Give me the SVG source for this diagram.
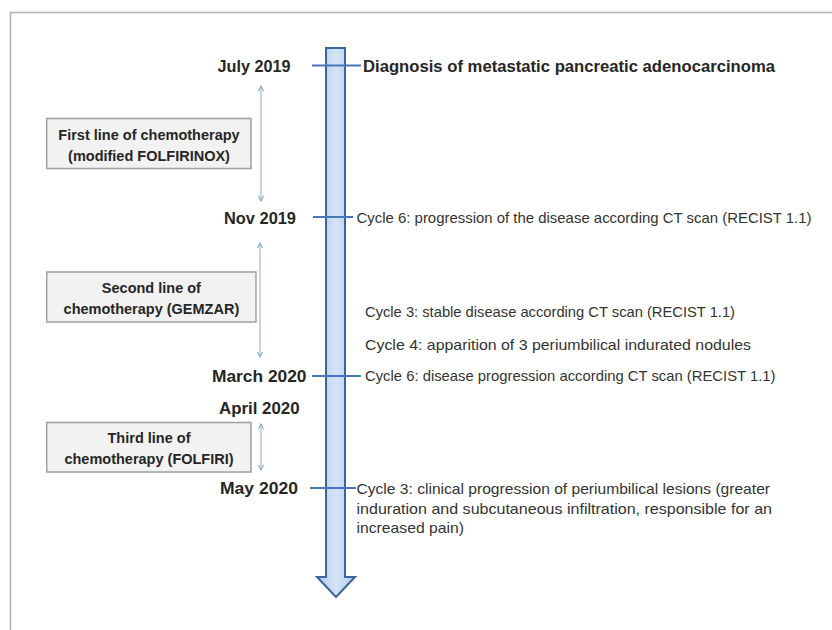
<svg xmlns="http://www.w3.org/2000/svg" width="832" height="630" viewBox="0 0 832 630">
  <style>
    .date { font-family: "Liberation Sans", Arial, sans-serif; font-weight: bold; font-size: 17px; fill: #262626; }
    .txt { font-family: "Liberation Sans", Arial, sans-serif; font-size: 15px; fill: #333333; }
    .btxt { font-family: "Liberation Sans", Arial, sans-serif; font-weight: bold; font-size: 14.5px; fill: #262626; text-anchor: middle; }
    .box { fill: #f2f2f2; stroke: #a0a0a0; stroke-width: 1.5; }
    .tick { stroke: #4677b5; stroke-width: 2; fill: none; }
    .span { stroke: #9db8d4; stroke-width: 1.2; fill: none; marker-start: url(#chev); marker-end: url(#chev); }
  </style>
  <defs>
    <linearGradient id="shaftGrad" x1="0" y1="0" x2="1" y2="0">
      <stop offset="0" stop-color="#b2cbeb"/>
      <stop offset="0.5" stop-color="#d4e3f6"/>
      <stop offset="1" stop-color="#b2cbeb"/>
    </linearGradient>
    <marker id="chev" viewBox="0 0 8 8" refX="7" refY="4" markerWidth="7" markerHeight="7" markerUnits="userSpaceOnUse" orient="auto-start-reverse">
      <path d="M1,1 L7,4 L1,7" fill="none" stroke="#8aa8c8" stroke-width="1.2"/>
    </marker>
  </defs>

  <rect x="0" y="0" width="832" height="630" fill="#ffffff"/>
  <rect x="10.5" y="12.5" width="840" height="640" fill="none" stroke="#b3b3b3" stroke-width="1.5"/>

  <g id="timeline">
    <path d="M326,48 H345 V577 H355 L336,597 L317,577 H326 Z" fill="url(#shaftGrad)" stroke="#3a659b" stroke-width="2" stroke-linejoin="miter"/>
  </g>

  <g id="connectors">
    <line class="tick" x1="312" y1="65.5" x2="361" y2="65.5"/>
    <line class="tick" x1="313" y1="217" x2="353" y2="217"/>
    <line class="tick" x1="312" y1="376" x2="361" y2="376"/>
    <line class="tick" x1="310" y1="488" x2="356" y2="488"/>
    <line class="span" x1="261" y1="86" x2="261" y2="201"/>
    <line class="span" x1="260" y1="243" x2="260" y2="357"/>
    <line class="span" x1="261" y1="424" x2="261" y2="470"/>
  </g>

  <g id="july2019">
    <text class="date" x="217.5" y="71.5" textLength="73" lengthAdjust="spacingAndGlyphs">July 2019</text>
    <text class="date" x="363" y="71.5" textLength="412" lengthAdjust="spacingAndGlyphs">Diagnosis of metastatic pancreatic adenocarcinoma</text>
  </g>

  <g id="box1">
    <rect class="box" x="46.7" y="118.5" width="204.3" height="50"/>
    <text class="btxt" x="149" y="139.5">First line of chemotherapy</text>
    <text class="btxt" x="149" y="160.5">(modified FOLFIRINOX)</text>
  </g>

  <g id="nov2019">
    <text class="date" x="224" y="223.5" textLength="72" lengthAdjust="spacingAndGlyphs">Nov 2019</text>
    <text class="txt" x="356.5" y="222.5" textLength="455" lengthAdjust="spacingAndGlyphs">Cycle 6: progression of the disease according CT scan (RECIST 1.1)</text>
  </g>

  <g id="box2">
    <rect class="box" x="46.7" y="272" width="209.3" height="50"/>
    <text class="btxt" x="151.4" y="292.5">Second line of</text>
    <text class="btxt" x="151.4" y="313.5">chemotherapy (GEMZAR)</text>
  </g>

  <g id="cycle3">
    <text class="txt" x="365" y="317" textLength="370" lengthAdjust="spacingAndGlyphs">Cycle 3: stable disease according CT scan (RECIST 1.1)</text>
  </g>
  <g id="cycle4">
    <text class="txt" x="365" y="349.5" textLength="386" lengthAdjust="spacingAndGlyphs">Cycle 4: apparition of 3 periumbilical indurated nodules</text>
  </g>

  <g id="march2020">
    <text class="date" x="212" y="382" textLength="94.5" lengthAdjust="spacingAndGlyphs">March 2020</text>
    <text class="txt" x="365" y="381" textLength="410.5" lengthAdjust="spacingAndGlyphs">Cycle 6: disease progression according CT scan (RECIST 1.1)</text>
  </g>

  <g id="april2020">
    <text class="date" x="219" y="413.5" textLength="80.5" lengthAdjust="spacingAndGlyphs">April 2020</text>
  </g>

  <g id="box3">
    <rect class="box" x="46.7" y="422.5" width="204.3" height="49.5"/>
    <text class="btxt" x="149" y="442.5">Third line of</text>
    <text class="btxt" x="149" y="463.5">chemotherapy (FOLFIRI)</text>
  </g>

  <g id="may2020">
    <text class="date" x="220" y="494" textLength="78" lengthAdjust="spacingAndGlyphs">May 2020</text>
    <text class="txt" x="356.5" y="494" textLength="413.5" lengthAdjust="spacingAndGlyphs">Cycle 3: clinical progression of periumbilical lesions (greater</text>
    <text class="txt" x="356.5" y="513.5" textLength="415.5" lengthAdjust="spacingAndGlyphs">induration and subcutaneous infiltration, responsible for an</text>
    <text class="txt" x="356.5" y="533" textLength="107.5" lengthAdjust="spacingAndGlyphs">increased pain)</text>
  </g>
</svg>
